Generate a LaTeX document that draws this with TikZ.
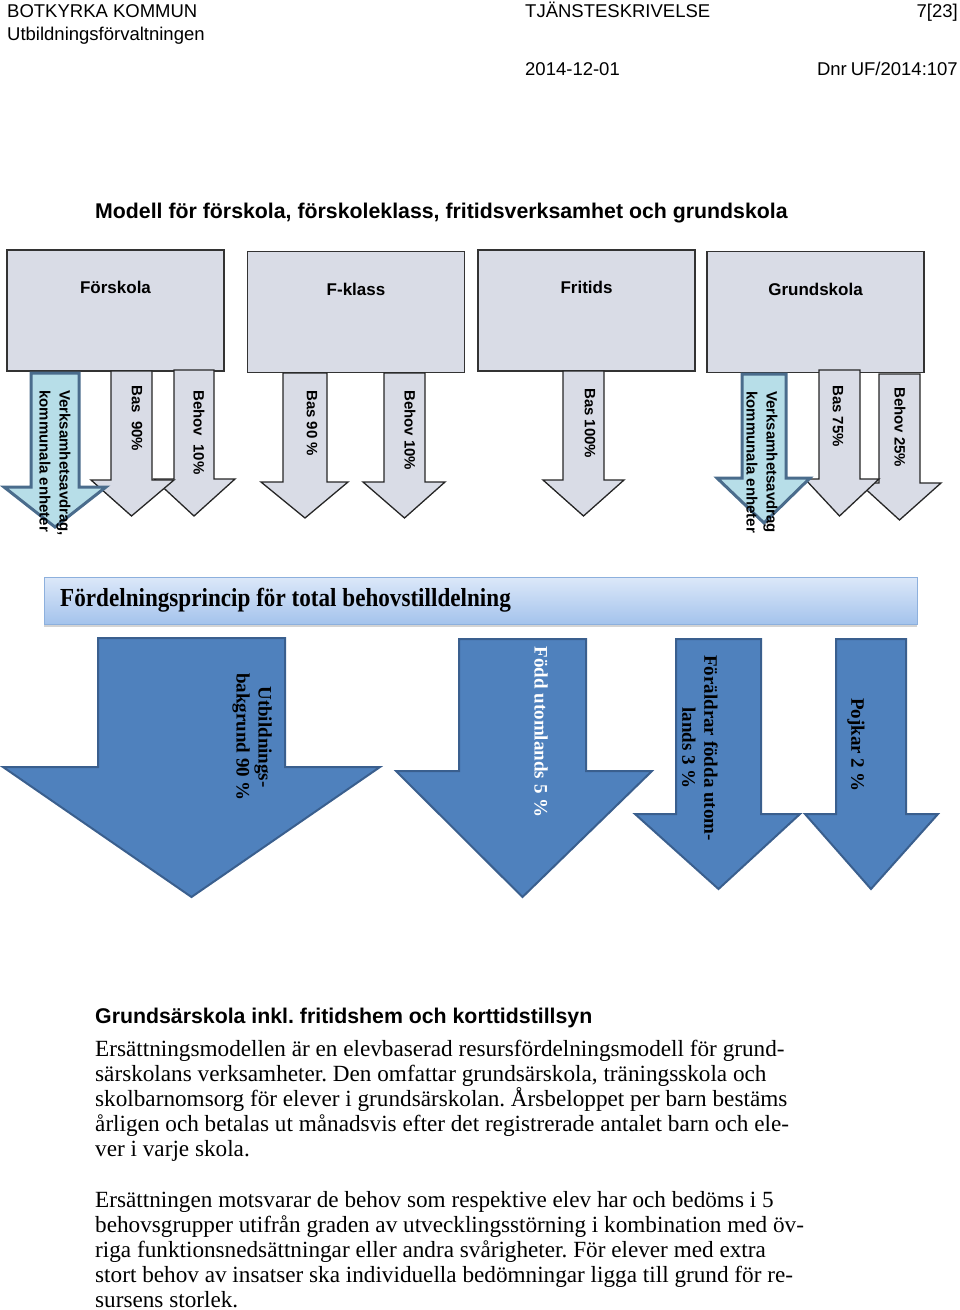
\documentclass[tikz,border=0pt]{standalone}
\usepackage{fontspec}
\setmainfont{Liberation Serif}
\setsansfont{Liberation Sans}
\usepackage{graphicx}
\usepackage{tikz}
\usetikzlibrary{positioning,shadows}
\frenchspacing
\definecolor{boxgrey}{HTML}{D9DCE6}
\definecolor{avdragfill}{HTML}{B7DEE8}
\definecolor{avdragline}{HTML}{4A6C8C}
\definecolor{princblue}{HTML}{4F81BD}
\definecolor{princline}{HTML}{3A5F8E}
\definecolor{bartop}{HTML}{DCE8F9}
\definecolor{barbot}{HTML}{A4C3EC}
\definecolor{barline}{HTML}{8DB0DD}
\tikzset{
    catbox/.style={draw=black!80, line width=1.3pt, fill=boxgrey,
        minimum width=217pt, minimum height=121pt, inner sep=0pt},
    catlabel/.style={font=\sffamily\bfseries\fontsize{17}{20}\selectfont, inner sep=0pt},
    greyarrow/.style={draw=black!85, line width=1.3pt, fill=boxgrey},
    avdragarrow/.style={draw=avdragline, line width=3pt, fill=avdragfill},
    bluearrow/.style={draw=princline, line width=2pt, fill=princblue},
    flowtext/.style={rotate=-90, anchor=west, inner sep=0pt, align=left,
        font=\sffamily\bfseries\fontsize{15}{20}\selectfont},
    princtext/.style={rotate=-90, inner sep=0pt, align=center,
        font=\rmfamily\bfseries\fontsize{19}{22}\selectfont},
    headtext/.style={font=\sffamily\fontsize{18.5}{22}\selectfont, inner sep=0pt},
    titletext/.style={font=\sffamily\bfseries\fontsize{21.3}{24}\selectfont, inner sep=0pt},
    bartext/.style={font=\rmfamily\bfseries\fontsize{26}{28}\selectfont, inner sep=0pt},
    bodytext/.style={font=\rmfamily\fontsize{23.2}{25}\selectfont, inner sep=0pt, anchor=base west}
}
% shaft left, shaft right, top, neck, head left, head right, tip
\newcommand{\blockarrow}[8]{%
    \draw[#1] (#2,#4) -- (#3,#4) -- (#3,#5) -- (#7,#5) -- ({(#2+#3)/2},#8)
        -- (#6,#5) -- (#2,#5) -- cycle;}

\begin{document}
\begin{tikzpicture}[x=1pt, y=-1pt]
    \useasboundingbox (0,0) rectangle (960,1310);

    % page header
    \node[headtext, anchor=base west] (hdr-org) at (7,17) {BOTKYRKA KOMMUN};
    \node[headtext, anchor=base west] (hdr-dept) at (7,40) {Utbildningsförvaltningen};
    \node[headtext, anchor=base west] (hdr-type) at (525,17) {TJÄNSTESKRIVELSE};
    \node[headtext, anchor=base east] (hdr-page) at (958,17) {7[23]};
    \node[headtext, anchor=base west] (hdr-date) at (525,75) {2014-12-01};
    \node[headtext, anchor=base east] (hdr-dnr) at (958,75) {Dnr\hspace{4pt}UF/2014:107};

    \node[titletext, anchor=base west] (modell) at (95,218)
        {Modell för förskola, förskoleklass, fritidsverksamhet och grundskola};

    % verksamheter
    \node[catbox] (fsk) at (115.5,310.5) {};
    \node[catbox] (fkl) at (356,312) {};
    \node[catbox] (frt) at (586.5,310.5) {};
    \node[catbox] (gsk) at (815.5,312) {};
    \node[catlabel, below=32pt of fsk.north] (fsk-lbl) {Förskola};
    \node[catlabel, below=32pt of fkl.north] (fkl-lbl) {F-klass};
    \node[catlabel, below=32pt of frt.north] (frt-lbl) {Fritids};
    \node[catlabel, below=32pt of gsk.north] (gsk-lbl) {Grundskola};

    \blockarrow{greyarrow}{174}{214}{370}{479}{154}{235}{516}
    \blockarrow{greyarrow}{111}{152}{371}{480}{91}{174}{516}
    \blockarrow{avdragarrow}{31}{79}{373}{487}{4}{106}{527}
    \blockarrow{greyarrow}{283}{327}{373}{482}{261}{348}{518}
    \blockarrow{greyarrow}{384}{425}{373}{482}{363}{445}{518}
    \blockarrow{greyarrow}{563}{604}{371}{480}{543}{624}{516}
    \blockarrow{greyarrow}{879}{920}{374}{483}{859}{941}{520}
    \blockarrow{greyarrow}{819}{860}{370}{479}{805}{879}{516}
    \blockarrow{avdragarrow}{742}{786}{374}{478}{717}{810}{523}

    \node[flowtext] (fsk-avd) at (55,390) {Verksamhetsavdrag,\\kommunala enheter};
    \node[flowtext] (fsk-bas) at (137,385) {Bas\ \ 90\%};
    \node[flowtext] (fsk-beh) at (199,390) {Behov\ \ 10\%};
    \node[flowtext] (fkl-bas) at (312,390) {Bas 90 \%};
    \node[flowtext] (fkl-beh) at (410,390) {Behov 10\%};
    \node[flowtext] (frt-bas) at (590,388) {Bas 100\%};
    \node[flowtext] (gsk-avd) at (762,391) {Verksamhetsavdrag\\kommunala enheter};
    \node[flowtext] (gsk-bas) at (838,385) {Bas 75\%};
    \node[flowtext] (gsk-beh) at (900,387) {Behov 25\%};

    % fördelningsprincip
    \node[draw=barline, line width=1pt, top color=bartop, bottom color=barbot,
        minimum width=873pt, minimum height=47pt,
        drop shadow={opacity=0.35, shadow xshift=0pt, shadow yshift=-3pt}]
        (princip) at (480.5,600.5) {};
    \node[bartext, anchor=west] (princip-lbl) at (60,600)
        {\scalebox{0.89}[1]{Fördelningsprincip för total behovstilldelning}};

    \blockarrow{bluearrow}{98}{285}{638}{767}{3}{380}{897}
    \blockarrow{bluearrow}{459}{586}{639}{771}{396}{652}{897}
    \blockarrow{bluearrow}{676}{761}{639}{814}{635}{800}{889}
    \blockarrow{bluearrow}{836}{906}{639}{814}{805}{938}{889}

    \node[princtext] (utb) at (252,737) {Utbildnings-\\bakgrund 90 \%};
    \node[princtext, text=white] (fodd) at (541,732) {Född utomlands 5 \%};
    \node[princtext] (foraldrar) at (700,748) {Föräldrar födda utom-\\lands 3 \%};
    \node[princtext] (pojkar) at (856,745) {Pojkar 2 \%};

    % grundsärskola
    \node[titletext, anchor=base west] (gsar) at (95,1023)
        {Grundsärskola inkl. fritidshem och korttidstillsyn};
    \foreach \txt [count=\i from 0] in {
        {Ersättningsmodellen är en elevbaserad resursfördelningsmodell för grund-},
        {särskolans verksamheter. Den omfattar grundsärskola, träningsskola och},
        {skolbarnomsorg för elever i grundsärskolan. Årsbeloppet per barn bestäms},
        {årligen och betalas ut månadsvis efter det registrerade antalet barn och ele-},
        {ver i varje skola.}}
        \node[bodytext] (para-a\i) at (95,{1056+25*\i}) {\txt};
    \foreach \txt [count=\i from 0] in {
        {Ersättningen motsvarar de behov som respektive elev har och bedöms i 5},
        {behovsgrupper utifrån graden av utvecklingsstörning i kombination med öv-},
        {riga funktionsnedsättningar eller andra svårigheter. För elever med extra},
        {stort behov av insatser ska individuella bedömningar ligga till grund för re-},
        {sursens storlek.}}
        \node[bodytext] (para-b\i) at (95,{1207+25*\i}) {\txt};
\end{tikzpicture}
\end{document}
